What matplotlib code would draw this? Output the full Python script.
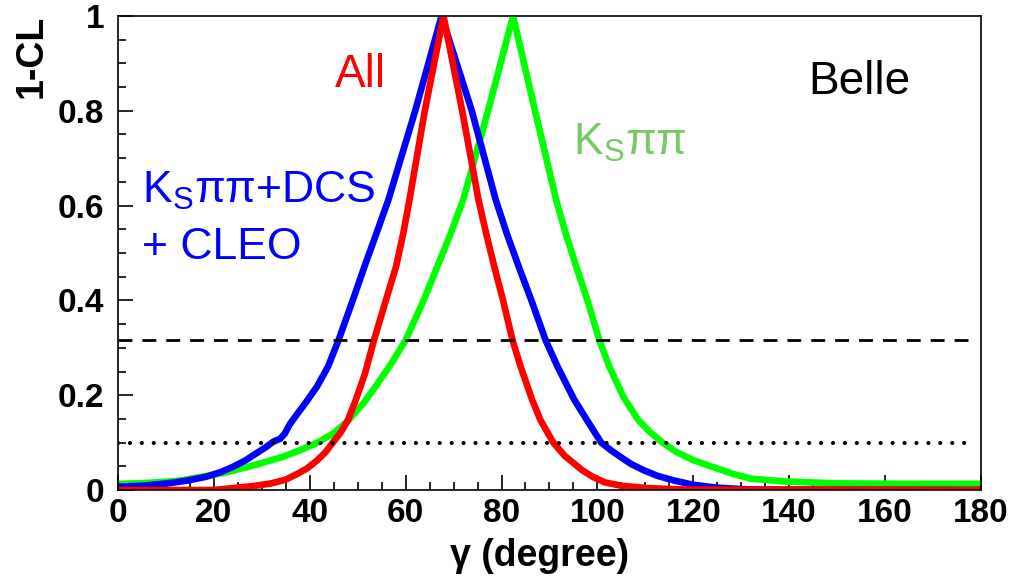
import numpy as np
import matplotlib
matplotlib.use("Agg")
import matplotlib.pyplot as plt
from matplotlib.ticker import MultipleLocator

plt.rcParams['font.family'] = ['Liberation Sans', 'DejaVu Sans']
plt.rcParams['mathtext.fontset'] = 'custom'
plt.rcParams['mathtext.rm'] = 'Liberation Sans'

# 1-CL scans
gamma_all = [0, 20, 24, 28, 32, 35, 37.6, 39.5, 41.6, 43.3, 44.8, 46.5, 48.0,
             49.6, 51.5, 53.4, 55.9, 58.0, 59.5, 60.8, 64.0, 67.9, 71.8, 75.2,
             76.8, 78.5, 80.3, 82.3, 84.0, 86.4, 88.1, 90.8, 93.2, 96.8, 99.0,
             101.6, 105, 110.4, 118, 180]
cl_all = [0.0, 0.0, 0.004, 0.008, 0.014, 0.022, 0.035, 0.046, 0.063, 0.08, 0.1,
          0.122, 0.148, 0.19, 0.245, 0.316, 0.401, 0.471, 0.541, 0.612, 0.80,
          1.0, 0.80, 0.612, 0.541, 0.471, 0.401, 0.316, 0.26, 0.19, 0.148,
          0.1, 0.072, 0.042, 0.028, 0.016, 0.009, 0.004, 0.001, 0.0]

gamma_dcs = [0, 5, 10.4, 14.5, 18.4, 21.5, 24.0, 26.5, 28.8, 30.8, 32.4, 33.8,
             34.8, 35.8, 37.0, 39.2, 41.5, 43.8, 46.0, 49.0, 51.4, 53.9, 56.4,
             62.0, 67.5, 73.8, 78.8, 81.1, 83.6, 86.2, 89.2, 91.7, 95.2, 98.6,
             100.8, 102.8, 104.8, 107, 109.6, 112.5, 116, 120, 124.8, 132, 180]
cl_dcs = [0.007, 0.009, 0.014, 0.02, 0.028, 0.038, 0.049, 0.062, 0.077, 0.09,
          0.102, 0.108, 0.119, 0.138, 0.155, 0.185, 0.218, 0.26, 0.316, 0.401,
          0.471, 0.541, 0.612, 0.80, 1.0, 0.80, 0.612, 0.541, 0.471, 0.401,
          0.316, 0.26, 0.19, 0.135, 0.1, 0.084, 0.07, 0.055, 0.042, 0.03,
          0.02, 0.011, 0.005, 0.001, 0.0]

gamma_kspp = [0, 4, 8, 13, 17.6, 22.5, 27.2, 31, 34.4, 38, 41.6, 45, 48.0,
              51.2, 54, 56.9, 60.0, 63.8, 66.6, 69.4, 72.0, 77.2, 82.4, 87.0,
              91.4, 93.4, 95.6, 97.9, 100.4, 102.5, 105.5, 108.5, 111, 113.6,
              116.5, 120, 124.8, 128, 132, 139, 150, 165, 180]
cl_kspp = [0.013, 0.014, 0.016, 0.02, 0.028, 0.037, 0.049, 0.06, 0.07, 0.084,
           0.1, 0.12, 0.146, 0.183, 0.222, 0.265, 0.316, 0.401, 0.471, 0.541,
           0.612, 0.80, 1.0, 0.80, 0.612, 0.541, 0.471, 0.401, 0.316, 0.26,
           0.195, 0.148, 0.122, 0.1, 0.08, 0.063, 0.046, 0.035, 0.024, 0.018,
           0.014, 0.013, 0.013]

level_1sigma = 0.317
level_90 = 0.1

fig = plt.figure(figsize=(10.25, 5.81), dpi=100)
ax = fig.add_axes([0.1151, 0.1566, 0.8419, 0.8159])

ax.plot(gamma_kspp, cl_kspp, color='#00ff00', lw=4.8, solid_joinstyle='round')
ax.plot(gamma_dcs, cl_dcs, color='#0000ff', lw=4.8, solid_joinstyle='round')
ax.plot(gamma_all, cl_all, color='#ff0000', lw=4.8, solid_joinstyle='round')

ax.plot([0, 179], [level_1sigma, level_1sigma], color='black', lw=2.0,
        dashes=(5.0, 3.6))
ax.plot([0, 178], [level_90, level_90], color='black', lw=3.0,
        dashes=(0.01, 2.85), dash_capstyle='round')

ax.set_xlim(0, 180)
ax.set_ylim(0, 1)
ax.xaxis.set_major_locator(MultipleLocator(20))
ax.xaxis.set_minor_locator(MultipleLocator(5))
ax.yaxis.set_minor_locator(MultipleLocator(0.05))
ax.set_yticks([0, 0.2, 0.4, 0.6, 0.8, 1.0])
ax.set_yticklabels(['0', '0.2', '0.4', '0.6', '0.8', '1'])
ax.tick_params(which='both', direction='in', top=False, right=False,
               labelsize=24, width=1.2)
ax.tick_params(which='major', length=11)
ax.tick_params(axis='y', which='major', pad=10)
ax.tick_params(axis='x', which='major', pad=6)
ax.tick_params(which='minor', length=6)
for lab in ax.get_xticklabels() + ax.get_yticklabels():
    lab.set_fontweight('bold')
for s in ax.spines.values():
    s.set_linewidth(1.2)

fig.text(32 / 1025, 1 - 15 / 581, '1-CL', rotation=90, ha='center', va='top',
         fontsize=27, fontweight='bold')
fig.text(540 / 1025, 1 - 566 / 581, 'γ (degree)', ha='center', va='baseline',
         fontsize=27, fontweight='bold')

ax.text(45.3, 0.85, 'All', color='#ff0000', fontsize=33)
ax.text(144.0, 0.835, 'Belle', color='black', fontsize=33)
ax.text(95.0, 0.707, r'K$_\mathrm{S}$ππ', color='#77c866', fontsize=32)
ax.text(5.0, 0.605, r'K$_\mathrm{S}$ππ+DCS', color='#0000ff', fontsize=32)
ax.text(5.0, 0.487, '+ CLEO', color='#0000ff', fontsize=32)

fig.savefig('out.png', dpi=100)
